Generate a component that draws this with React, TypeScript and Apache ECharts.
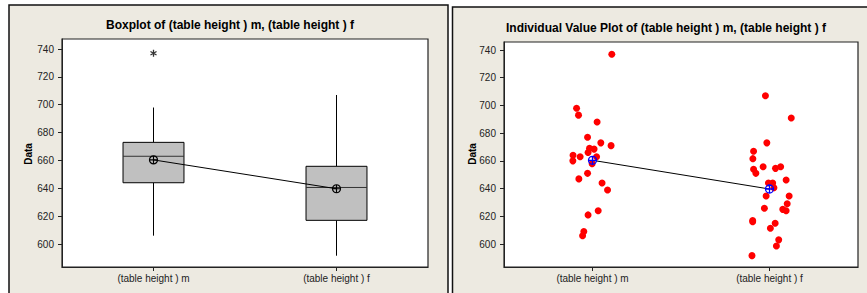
import React, { useEffect, useRef } from "react";
import * as echarts from "echarts";

// ---- data ----
const categories = ["(table height ) m", "(table height ) f"];
const mValues = [698, 693, 688, 677, 673, 671, 669, 668.5, 666, 664, 663, 663, 660, 658, 651, 647, 644, 639, 624, 621, 609, 606, 737];
const mJitter = [-0.09, -0.079, 0.026, -0.028, 0.047, 0.105, -0.017, 0.009, -0.025, -0.11, -0.07, 0.023, -0.111, -0.002, -0.028, -0.077, 0.054, 0.085, 0.032, -0.025, -0.049, -0.056, 0.109];
const fValues = [707, 691, 673, 667, 661.6, 654, 651, 655.8, 654.6, 655.8, 646.2, 644, 644, 640.6, 634.7, 634.7, 629, 625.8, 625, 624, 617, 616, 615, 611.4, 603, 598.6, 591.6];
const fJitter = [-0.023, 0.123, -0.015, -0.09, -0.094, -0.09, -0.077, -0.036, 0.034, 0.063, 0.094, -0.006, 0.018, 0.025, -0.019, 0.111, 0.1, -0.029, 0.075, 0.094, -0.095, -0.095, 0.032, 0.005, 0.052, 0.039, -0.099];
const yTicks = [600, 620, 640, 660, 680, 700, 720, 740];
const titleBox = "Boxplot of (table height ) m, (table height ) f";
const titleInd = "Individual Value Plot of (table height ) m, (table height ) f";
const yName = "Data";

// ---- statistics (Minitab style) ----
function quantile(sorted: number[], q: number) {
  const n = sorted.length;
  const pos = q * (n + 1);
  const lo = Math.floor(pos);
  const frac = pos - lo;
  if (lo < 1) return sorted[0];
  if (lo >= n) return sorted[n - 1];
  return sorted[lo - 1] + frac * (sorted[lo] - sorted[lo - 1]);
}
function boxStats(vals: number[]) {
  const s = [...vals].sort((a, b) => a - b);
  const q1 = quantile(s, 0.25);
  const med = quantile(s, 0.5);
  const q3 = quantile(s, 0.75);
  const iqr = q3 - q1;
  const inside = s.filter((v) => v >= q1 - 1.5 * iqr && v <= q3 + 1.5 * iqr);
  const outliers = s.filter((v) => v < q1 - 1.5 * iqr || v > q3 + 1.5 * iqr);
  const mean = s.reduce((a, b) => a + b, 0) / s.length;
  return { min: inside[0], q1, med, q3, max: inside[inside.length - 1], outliers, mean };
}

const FONT = "Liberation Sans, Arial, sans-serif";
const BEIGE = "#EDEAE1";
const CIRCLE_PLUS = "path://M10,0A10,10 0 1,1 -10,0A10,10 0 1,1 10,0Z M-10,0L10,0 M0,-10L0,10";
const ASTERISK = "path://M0,-5L0,5M-4.33,-2.5L4.33,2.5M-4.33,2.5L4.33,-2.5";

export default function App() {
  const ref = useRef<HTMLDivElement>(null);
  useEffect(() => {
    if (!ref.current) return;
    const chart = echarts.init(ref.current, undefined, { renderer: "svg" });
    const stats = [boxStats(mValues), boxStats(fValues)];

    const catAxis = (gridIndex: number) => ({
      gridIndex,
      type: "category",
      data: categories,
      boundaryGap: true,
      axisLine: { show: true, onZero: false, lineStyle: { color: "#222", width: 1 } },
      axisTick: { show: true, alignWithLabel: true, length: 4, lineStyle: { color: "#222" } },
      axisLabel: { margin: 6, fontSize: 10, fontFamily: FONT, color: "#222" },
      splitLine: { show: false },
    });
    const valAxis = (gridIndex: number, min: number, max: number) => ({
      gridIndex,
      type: "value",
      min,
      max,
      axisLine: { show: true, onZero: false, lineStyle: { color: "#222", width: 1 } },
      axisTick: { show: true, length: 4, lineStyle: { color: "#222" }, customValues: yTicks },
      axisLabel: { margin: 8, fontSize: 10, fontFamily: FONT, color: "#222", customValues: yTicks },
      splitLine: { show: false },
    });

    const scatterData: number[][] = [];
    mValues.forEach((v, i) => scatterData.push([0 + mJitter[i], v]));
    fValues.forEach((v, i) => scatterData.push([1 + fJitter[i], v]));

    const outlierData: number[][] = [];
    stats.forEach((s, i) => s.outliers.forEach((v) => outlierData.push([i, v])));

    chart.setOption({
      animation: false,
      graphic: [
        { type: "rect", z: -10, shape: { x: 9, y: 5, width: 439, height: 300 }, style: { fill: BEIGE, stroke: "#111", lineWidth: 1.5 } },
        { type: "rect", z: -10, shape: { x: 452.5, y: 7, width: 430, height: 300 }, style: { fill: BEIGE, stroke: "#111", lineWidth: 1.5 } },
        { type: "text", x: 230, y: 25, style: { text: titleBox, fontSize: 12, fontWeight: "bold", fontFamily: FONT, fill: "#000", textAlign: "center", textVerticalAlign: "middle" } },
        { type: "text", x: 666, y: 28, style: { text: titleInd, fontSize: 12, fontWeight: "bold", fontFamily: FONT, fill: "#000", textAlign: "center", textVerticalAlign: "middle" } },
        { type: "text", x: 28, y: 154, rotation: Math.PI / 2, style: { text: yName, fontSize: 10, fontWeight: "bold", fontFamily: FONT, fill: "#000", textAlign: "center", textVerticalAlign: "middle" } },
        { type: "text", x: 472, y: 154, rotation: Math.PI / 2, style: { text: yName, fontSize: 10, fontWeight: "bold", fontFamily: FONT, fill: "#000", textAlign: "center", textVerticalAlign: "middle" } },
      ],
      grid: [
        { left: 62, top: 39, width: 366, height: 228, show: true, backgroundColor: "#fff", borderColor: "#222", borderWidth: 1.2 },
        { left: 504, top: 42, width: 354, height: 225, show: true, backgroundColor: "#fff", borderColor: "#222", borderWidth: 1.2 },
      ],
      xAxis: [
        catAxis(0),
        catAxis(1),
        { gridIndex: 1, type: "value", min: -0.5, max: 1.5, show: false, axisLine: { onZero: false } },
      ],
      yAxis: [valAxis(0, 583.5, 747.2), valAxis(1, 583.4, 745.8)],
      series: [
        {
          type: "custom",
          xAxisIndex: 0,
          yAxisIndex: 0,
          silent: true,
          encode: { x: 0, y: [1, 2, 3, 4, 5] },
          data: stats.map((s, i) => [i, s.min, s.q1, s.med, s.q3, s.max]),
          renderItem: (params: any, api: any) => {
            const x = api.value(0);
            const lo = api.coord([x, api.value(1)]);
            const q1 = api.coord([x, api.value(2)]);
            const md = api.coord([x, api.value(3)]);
            const q3 = api.coord([x, api.value(4)]);
            const hi = api.coord([x, api.value(5)]);
            const bw = api.size([1, 0])[0] * 0.333;
            const st = { stroke: "#000", lineWidth: 1 };
            return {
              type: "group",
              children: [
                { type: "line", shape: { x1: lo[0], y1: lo[1], x2: q1[0], y2: q1[1] }, style: st },
                { type: "line", shape: { x1: q3[0], y1: q3[1], x2: hi[0], y2: hi[1] }, style: st },
                { type: "rect", shape: { x: q3[0] - bw / 2, y: q3[1], width: bw, height: q1[1] - q3[1] }, style: { fill: "#C0C0C0", stroke: "#000", lineWidth: 1 } },
                { type: "line", shape: { x1: md[0] - bw / 2, y1: md[1], x2: md[0] + bw / 2, y2: md[1] }, style: { stroke: "#333", lineWidth: 1 } },
              ],
            };
          },
        },
        {
          type: "scatter",
          xAxisIndex: 0,
          yAxisIndex: 0,
          silent: true,
          symbol: ASTERISK,
          symbolSize: 7,
          symbolKeepAspect: true,
          itemStyle: { color: "transparent", borderColor: "#000", borderWidth: 1.3 },
          data: outlierData,
        },
        {
          type: "line",
          xAxisIndex: 0,
          yAxisIndex: 0,
          silent: true,
          z: 5,
          symbol: CIRCLE_PLUS,
          symbolSize: 8,
          showSymbol: true,
          lineStyle: { color: "#000", width: 1 },
          itemStyle: { color: "transparent", borderColor: "#000", borderWidth: 1.2 },
          data: stats.map((s, i) => [i, s.mean]),
        },
        {
          type: "scatter",
          xAxisIndex: 2,
          yAxisIndex: 1,
          silent: true,
          symbol: "circle",
          symbolSize: 7,
          itemStyle: { color: "#FF0000", opacity: 1 },
          data: scatterData,
        },
        {
          type: "line",
          xAxisIndex: 1,
          yAxisIndex: 1,
          silent: true,
          z: 5,
          symbol: CIRCLE_PLUS,
          symbolSize: 8,
          showSymbol: true,
          lineStyle: { color: "#000", width: 1 },
          itemStyle: { color: "transparent", borderColor: "#0000FF", borderWidth: 1.3 },
          data: stats.map((s, i) => [i, s.mean]),
        },
      ],
    });
    return () => chart.dispose();
  }, []);
  return <div ref={ref} style={{ position: "absolute", left: 0, top: 0, width: 867, height: 293 }} />;
}
